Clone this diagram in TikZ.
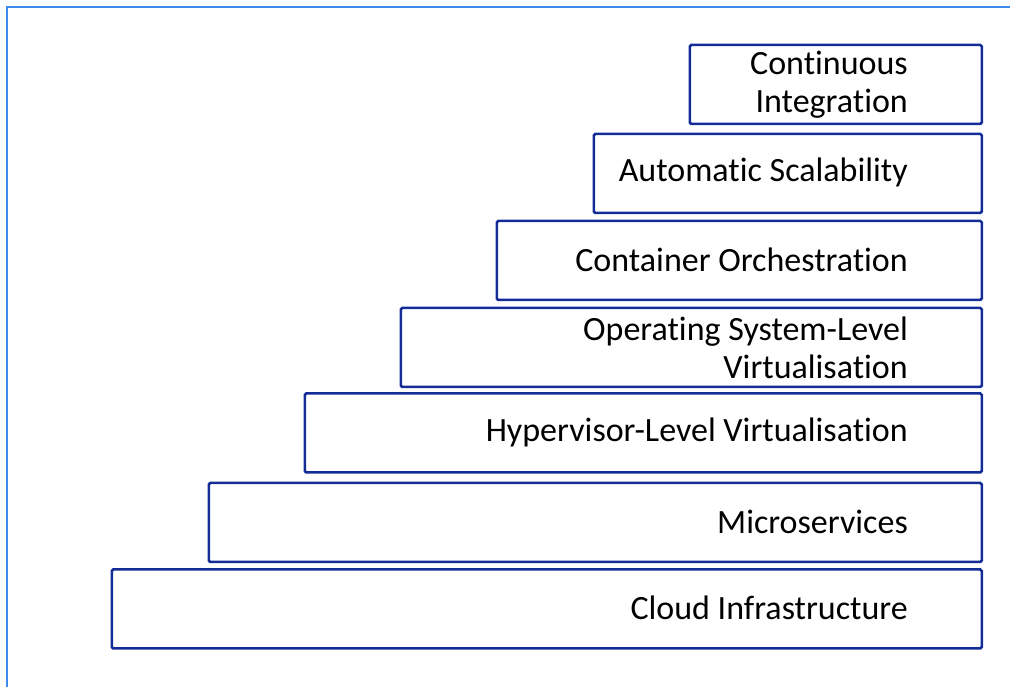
\documentclass[tikz,border=0pt]{standalone}
\usepackage{fontspec}
\setmainfont{Carlito}[Ligatures=NoCommon]
\usetikzlibrary{positioning}
\definecolor{boxblue}{RGB}{20,45,150}
\definecolor{edgeblue}{RGB}{60,140,235}
\tikzset{lvl/.style={draw=boxblue,line width=2.5pt,rounded corners=1.5pt,minimum height=79pt,anchor=east,inner sep=0pt},
 lbl/.style={anchor=east,align=right,inner sep=0pt,font=\fontsize{34}{38}\selectfont}}

\begin{document}
\begin{tikzpicture}[x=1pt,y=1pt]
\useasboundingbox(0,0)rectangle(1010,687);
\draw[edgeblue,line width=1.5pt](1010,680)--(7,680)--(7,0);
% levels, bottom to top
\node[lvl,minimum width=870pt](cloud) at(983,78){};
\node[lbl](cloudt) at([xshift=-75pt,yshift=1pt]cloud.east){Cloud Infrastructure};
\node[lvl,minimum width=773pt](micro) at(983,164.5){};
\node[lbl](microt) at([xshift=-75pt,yshift=1pt]micro.east){Microservices};
\node[lvl,minimum width=677pt](hyper) at(983,254){};
\node[lbl](hypert) at([xshift=-75pt,yshift=1pt]hyper.east){Hypervisor-Level Virtualisation};
\node[lvl,minimum width=581pt](osv) at(983,339.5){};
\node[lbl](osvt) at([xshift=-75pt]osv.east){Operating System-Level\\Virtualisation};
\node[lvl,minimum width=485pt](orch) at(983,426.5){};
\node[lbl](orcht) at([xshift=-75pt,yshift=1pt]orch.east){Container Orchestration};
\node[lvl,minimum width=388pt](scale) at(983,513.5){};
\node[lbl](scalet) at([xshift=-75pt,yshift=1pt]scale.east){Automatic Scalability};
\node[lvl,minimum width=292pt](ci) at(983,602.5){};
\node[lbl](cit) at([xshift=-75pt]ci.east){Continuous\\Integration};
\end{tikzpicture}
\end{document}
